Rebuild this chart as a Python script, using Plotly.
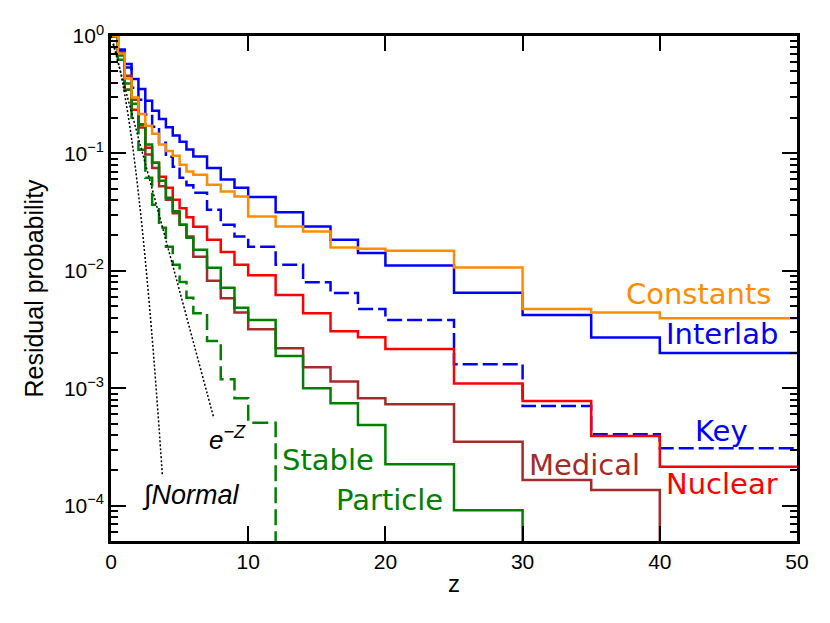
import plotly.graph_objects as go

# bin edges in z (0.5 wide to 6, then 1, 2 and 5 wide)
z_edges = [0, 0.5, 1, 1.5, 2, 2.5, 3, 3.5, 4, 4.5, 5, 5.5, 6, 7, 8, 9, 10,
           12, 14, 16, 18, 20, 25, 30, 35, 40, 45, 50]

# residual probability in each bin, 0 = nothing left
constants = [1, 0.708, 0.434, 0.299, 0.217, 0.172, 0.147, 0.119, 0.105, 0.0955,
             0.080, 0.0703, 0.0659, 0.0541, 0.0474, 0.0430, 0.0290, 0.0239, 0.0216,
             0.0158, 0.0154, 0.0148, 0.0107, 0.00474, 0.00441, 0.00395, 0.00395]
interlab = [1, 0.766, 0.578, 0.431, 0.354, 0.281, 0.231, 0.196, 0.167, 0.142,
            0.126, 0.108, 0.094, 0.075, 0.060, 0.051, 0.0425, 0.0316, 0.0239,
            0.0184, 0.0142, 0.0111, 0.0065, 0.0042, 0.0027, 0.0020, 0.0020]
key = [1, 0.74, 0.538, 0.363, 0.287, 0.214, 0.169, 0.123, 0.0938, 0.0769,
       0.0621, 0.0536, 0.0462, 0.0331, 0.0247, 0.0196, 0.0160, 0.01125, 0.0080,
       0.00646, 0.00474, 0.00382, 0.00160, 0.000706, 0.000406, 0.000308, 0.000308]
nuclear = [1, 0.693, 0.349, 0.236, 0.166, 0.112, 0.0834, 0.0632, 0.0511, 0.0403,
           0.0341, 0.0286, 0.0237, 0.0184, 0.0145, 0.01125, 0.00916, 0.00624,
           0.00436, 0.00306, 0.00272, 0.00216, 0.00110, 0.00078, 0.000392,
           0.000215, 0.000215]
medical = [1, 0.721, 0.459, 0.287, 0.176, 0.0977, 0.0752, 0.0524, 0.0403, 0.0310,
           0.0247, 0.0196, 0.0132, 0.00822, 0.00585, 0.00441, 0.00318, 0.00219,
           0.00151, 0.00114, 0.00082, 0.00073, 0.000351, 0.000165, 0.000136, 0, 0]
particle = [1, 0.681, 0.393, 0.265, 0.176, 0.119, 0.0834, 0.0585, 0.0419, 0.0321,
            0.0247, 0.0191, 0.0151, 0.0106, 0.00716, 0.00484, 0.00382, 0.00188,
            0.00100, 0.000745, 0.000486, 0.000225, 0.0000916, 0, 0, 0, 0]
stable = [1, 0.629, 0.349, 0.201, 0.1076, 0.0621, 0.0366, 0.0233, 0.0160, 0.01125,
          0.00805, 0.00589, 0.00436, 0.00253, 0.00119, 0.000822, 0.000509,
          0, 0, 0, 0, 0, 0, 0, 0, 0, 0]

# reference curves
expz_z = [0, 0.5, 1, 1.5, 2, 3, 4, 5, 6, 7, 7.5]
expz_p = [1, 0.607, 0.368, 0.223, 0.135, 0.0498, 0.0183, 0.00674, 0.00248,
          0.000912, 0.000553]
normal_z = [0, 0.25, 0.5, 0.75, 1, 1.5, 2, 2.5, 3, 3.25, 3.5, 3.75]
normal_p = [1, 0.803, 0.617, 0.453, 0.317, 0.134, 0.0455, 0.0124, 0.0027,
            0.00115, 0.000465, 0.000177]

TINY = 1e-9  # stands in for zero on the log axis


def steps(vals):
    y = [v if v > 0 else TINY for v in vals]
    return y + [y[-1]]


fig = go.Figure()

series = [
    (interlab, 'blue', 'solid', 'Interlab'),
    (key, 'blue', '15px,5px', 'Key'),
    (nuclear, 'red', 'solid', 'Nuclear'),
    (medical, '#A52A2A', 'solid', 'Medical'),
    (particle, 'green', 'solid', 'Particle'),
    (stable, 'green', '16px,6px', 'Stable'),
    (constants, '#FF8C00', 'solid', 'Constants'),
]
for vals, col, dash, name in series:
    fig.add_trace(go.Scatter(x=z_edges, y=steps(vals), mode='lines',
                             line=dict(color=col, width=2.5, dash=dash, shape='hv'),
                             name=name))

fig.add_trace(go.Scatter(x=expz_z, y=expz_p, mode='lines',
                         line=dict(color='black', width=1.5, dash='2px,2px', shape='spline'),
                         name='exp'))
fig.add_trace(go.Scatter(x=normal_z, y=normal_p, mode='lines',
                         line=dict(color='black', width=1.5, dash='2px,2px', shape='spline'),
                         name='normal'))

labels = [
    ('Constants', 42.8, -2.196, '#FF8C00'),
    ('Interlab', 44.5, -2.537, 'blue'),
    ('Key', 44.5, -3.364, 'blue'),
    ('Nuclear', 44.5, -3.816, 'red'),
    ('Medical', 34.5, -3.654, '#A52A2A'),
    ('Stable', 15.8, -3.611, 'green'),
    ('Particle', 20.3, -3.952, 'green'),
]
for txt, x, y, col in labels:
    fig.add_annotation(x=x, y=y, text=txt, showarrow=False,
                       font=dict(family='DejaVu Sans', size=29, color=col))

fig.add_annotation(x=8.5, y=-3.424, text='<i>e<sup>−Z</sup></i>', showarrow=False,
                   font=dict(family='Liberation Sans', size=26, color='black'))
fig.add_annotation(x=5.76, y=-3.91, text='<i>∫Normal</i>', showarrow=False,
                   font=dict(family='Liberation Sans', size=27, color='black'))

ytick_vals = [1, 0.1, 0.01, 0.001, 0.0001]
ytick_text = ['10<sup>0</sup>', '10<sup>−1</sup>', '10<sup>−2</sup>',
              '10<sup>−3</sup>', '10<sup>−4</sup>']

# the page puts the figure 8px in from the corner, so the figure is a bit smaller
fig.update_layout(
    width=822, height=615,
    margin=dict(l=103, r=33, t=28, b=82),
    paper_bgcolor='white', plot_bgcolor='white',
    showlegend=False,
    font=dict(family='Liberation Sans', size=21, color='black'),
    xaxis=dict(range=[0, 50], tickvals=[0, 10, 20, 30, 40, 50], automargin=False,
               ticks='inside', ticklen=15, tickwidth=2, tickcolor='black',
               showline=True, linewidth=2.5, linecolor='black', mirror='ticks',
               showgrid=False, zeroline=False,
               title=dict(text='z', font=dict(size=24), standoff=4)),
    yaxis=dict(type='log', range=[-4.301, 0], tickvals=ytick_vals, ticktext=ytick_text,
               automargin=False,
               ticks='inside', ticklen=15, tickwidth=2, tickcolor='black',
               minor=dict(dtick='D1', ticks='inside', ticklen=7, tickwidth=1.5,
                          tickcolor='black', showgrid=False),
               showline=True, linewidth=2.5, linecolor='black', mirror='ticks',
               showgrid=False, zeroline=False,
               title=dict(text='Residual probability', font=dict(size=25), standoff=14)),
)

fig.write_html("out.html")
